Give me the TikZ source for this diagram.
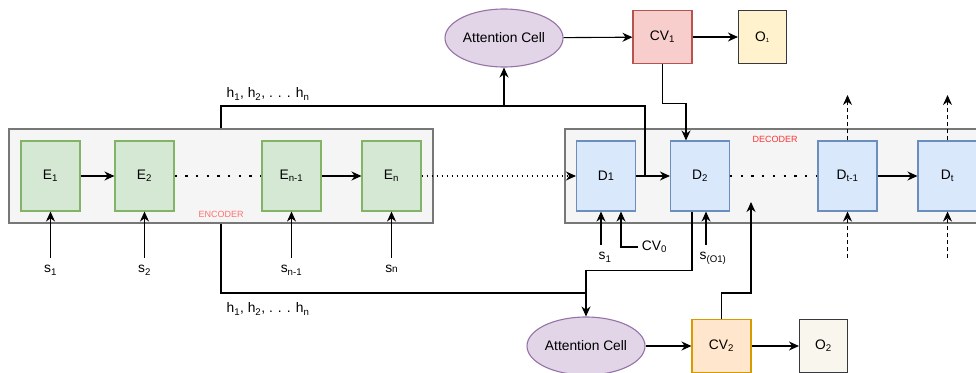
\documentclass[tikz,border=0pt]{standalone}
\usepackage{fontspec}
\setmainfont{Liberation Sans}
\usetikzlibrary{shapes.geometric}
\usetikzlibrary{arrows.meta}

\definecolor{grayfill}{HTML}{F5F5F5}
\definecolor{grayline}{HTML}{777777}
\definecolor{encfill}{HTML}{D5E8D4}
\definecolor{encline}{HTML}{82B366}
\definecolor{decfill}{HTML}{DAE8FC}
\definecolor{decline}{HTML}{6C8EBF}
\definecolor{attfill}{HTML}{E1D5E7}
\definecolor{attline}{HTML}{9673A6}
\definecolor{cvafill}{HTML}{F8CECC}
\definecolor{cvaline}{HTML}{B85450}
\definecolor{cvbfill}{HTML}{FFE6CC}
\definecolor{cvbline}{HTML}{D79B00}
\definecolor{oafill}{HTML}{FFF2CC}
\definecolor{oaline}{HTML}{36393D}
\definecolor{obfill}{HTML}{F9F7ED}
\definecolor{enctext}{HTML}{FF7070}
\definecolor{dectext}{HTML}{FF3333}

\begin{document}
\begin{tikzpicture}[x=1pt,y=-1pt,line width=1.1pt,font=\fontsize{13.8}{16}\selectfont]

\tikzset{group/.style = {shape=rectangle,draw=grayline,fill=grayfill,line width=1.4pt,minimum height=94pt,inner sep=0pt}}
\tikzset{cell/.style = {shape=rectangle,draw,minimum width=59pt,minimum height=70pt,inner sep=0pt}}
\tikzset{enccell/.style = {cell,fill=encfill,draw=encline}}
\tikzset{deccell/.style = {cell,fill=decfill,draw=decline}}
\tikzset{attcell/.style = {shape=ellipse,draw=attline,fill=attfill,minimum width=118pt,minimum height=58pt,inner sep=0pt}}
\tikzset{vecbox/.style = {shape=rectangle,draw,minimum width=59pt,minimum height=53pt,inner sep=0pt}}
\tikzset{outbox/.style = {shape=rectangle,draw=oaline,minimum width=48pt,minimum height=53pt,inner sep=0pt}}
\tikzset{tag/.style = {font=\fontsize{9}{10}\selectfont}}
\tikzset{inlbl/.style = {inner sep=0pt,outer ysep=7.5pt,anchor=north}}
\tikzset{edge/.style = {-{Stealth[length=10pt,width=9pt]}}}
\tikzset{bigdots/.style = {line width=2.3pt,dash pattern=on 2.3pt off 8.4pt}}
\tikzset{thindots/.style = {line width=1.1pt,dash pattern=on 1.1pt off 3.9pt}}
\tikzset{future/.style = {edge,dash pattern=on 4pt off 3pt}}

\useasboundingbox (0,0) rectangle (976,372);
\clip (0,0) rectangle (976,372);

% encoder and decoder groups
\node[group,minimum width=424pt] (enc) at (221,176) {};
\node[group,minimum width=420pt] (dec) at (775,176) {};
\node[tag,text=enctext] (enctag) at (221,214) {ENCODER};
\node[tag,text=dectext] (dectag) at (775,139) {DECODER};

\node[enccell] (e1) at (50.5,176) {E\textsubscript{1}};
\node[enccell] (e2) at (144.5,176) {E\textsubscript{2}};
\node[enccell] (en1) at (291.5,176) {E\textsubscript{n-1}};
\node[enccell] (en) at (391.5,176) {E\textsubscript{n}};

\node[deccell] (d1) at (606,176) {D{\fontsize{11}{12}\selectfont 1}};
\node[deccell] (d2) at (700,176) {D\textsubscript{2}};
\node[deccell] (dt1) at (847.5,176) {D\textsubscript{t-1}};
\node[deccell] (dt) at (947.5,176) {D\textsubscript{t}};

% attention, context vectors, outputs
\node[attcell] (att1) at (504,38) {Attention Cell};
\node[vecbox,fill=cvafill,draw=cvaline] (cv1) at (662.5,37) {CV\textsubscript{1}};
\node[outbox,fill=oafill] (o1) at (762.5,37) {O{\fontsize{9}{10}\selectfont\textsubscript{1}}};

\node[attcell] (att2) at (586,346) {Attention Cell};
\node[vecbox,fill=cvbfill,draw=cvbline] (cv2) at (721.5,346) {CV\textsubscript{2}};
\node[outbox,fill=obfill] (o2) at (823.5,346) {O\textsubscript{2}};

% inputs
\node[inlbl] (s1) at (50.5,258) {s\textsubscript{1}};
\node[inlbl] (s2) at (144.5,258) {s\textsubscript{2}};
\node[inlbl] (sn1) at (291.5,258) {s\textsubscript{n-1}};
\node[inlbl] (sn) at (391.5,258) {s{\fontsize{10}{11}\selectfont n}};
\node[inlbl] (sd1) at (605,245) {s\textsubscript{1}};
\node[inlbl] (so1) at (713,245) {s\textsubscript{(O1)}};
\node[anchor=west] (cv0) at (638,247) {CV\textsubscript{0}};

\node (htop) at (268,94) {h\textsubscript{1}, h\textsubscript{2}, . . . h\textsubscript{n}};
\node (hbot) at (268,309) {h\textsubscript{1}, h\textsubscript{2}, . . . h\textsubscript{n}};

\coordinate (ht) at (645,106);
\coordinate (hb) at (586,293);
\coordinate (d1s) at ([xshift=-5pt]d1.south);
\coordinate (d2s) at ([xshift=6pt]d2.south);
\coordinate (cvin) at (751,202);
\coordinate (dt1out) at (847.5,95);
\coordinate (dtout) at (947.5,95);
\coordinate (dt1in) at (847.5,258);
\coordinate (dtin) at (947.5,258);

%edges
\draw[edge] (e1) to (e2);
\draw[bigdots] (e2) to (en1);
\draw[edge] (en1) to (en);
\draw[thindots] (en) to (d1);
\draw[-{Stealth[length=10pt,width=9pt]}] ([xshift=-2pt]d1.west) to (d1.west);
\draw[edge] (d1) to (d2);
\draw[bigdots] (d2) to (dt1);
\draw[edge] (dt1) to (dt);

\draw[edge] (s1) to (e1);
\draw[edge] (s2) to (e2);
\draw[edge] (sn1) to (en1);
\draw[edge] (sn) to (en);
\draw[edge] (d1s |- sd1.north) to (d1s);
\draw[edge] (cv0.west) -| ([xshift=15pt]d1.south);
\draw[edge] (d2s |- so1.north) to (d2s);

% encoder states to both attention cells
\draw (enc.north) |- (ht) -- (ht |- d1.east);
\draw[edge] (att1.south |- ht) to (att1.south);
\draw (enc.south) |- (hb);
\draw[edge] ([xshift=-8pt]d2.south) -- ++(0,59) -| (att2.north);

\draw[edge] (att1) to (cv1);
\draw[edge] (cv1) to (o1);
\draw[edge] (cv1.south) -- ++(0,39) -| ([xshift=-14pt]d2.north);

\draw[edge] (att2) to (cv2);
\draw[edge] (cv2) to (o2);
\draw[edge] (cv2.north) -- ++(0,-26) -| (cvin);

\draw[future] (dt1.north) to (dt1out);
\draw[future] (dt.north) to (dtout);
\draw[future] (dt1in) to (dt1.south);
\draw[future] (dtin) to (dt.south);

\end{tikzpicture}
\end{document}
